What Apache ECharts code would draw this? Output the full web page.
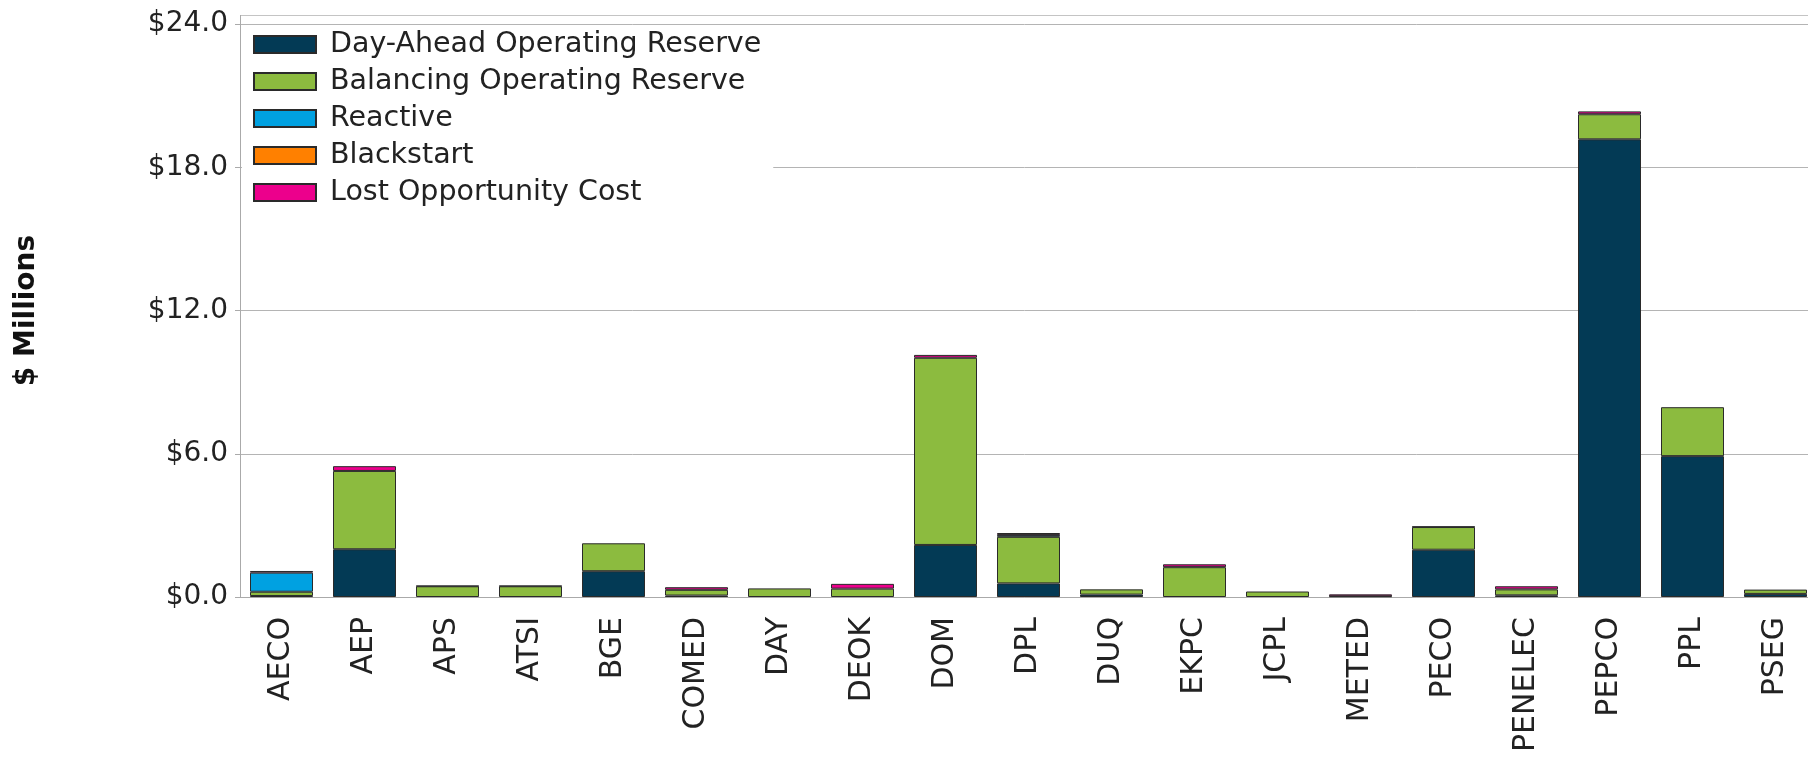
<!DOCTYPE html>
<html>
<head>
<meta charset="utf-8">
<script src="https://cdn.jsdelivr.net/npm/echarts@6/dist/echarts.min.js"></script>
<style>
html,body{margin:0;padding:0;background:#fff;}
#chart{width:1808px;height:765px;}
</style>
</head>
<body>
<div id="chart"></div>
<script>
const categories = ['AECO','AEP','APS','ATSI','BGE','COMED','DAY','DEOK','DOM','DPL','DUQ','EKPC','JCPL','METED','PECO','PENELEC','PEPCO','PPL','PSEG'];
const dayAhead   = [0.04, 2.00, 0,    0,    1.08, 0.06, 0,    0,    2.18, 0.57, 0.10, 0,    0,    0,    1.98, 0.07, 19.17, 5.90, 0.13];
const balancing  = [0.18, 3.28, 0.45, 0.45, 1.17, 0.24, 0.36, 0.35, 7.84, 1.95, 0.22, 1.25, 0.23, 0.03, 0.95, 0.25, 1.05,  2.05, 0.18];
const reactive   = [0.80, 0,    0.02, 0.02, 0,    0,    0,    0,    0,    0.08, 0,    0,    0,    0,    0.02, 0,    0,     0,    0];
const blackstart = [0,    0,    0,    0,    0,    0,    0,    0,    0,    0,    0,    0,    0,    0,    0,    0,    0,     0,    0];
const lostOpp    = [0.07, 0.20, 0,    0,    0,    0.11, 0,    0.20, 0.12, 0.08, 0,    0.12, 0,    0.08, 0,    0.13, 0.12,  0,    0];
const yTicks = {min: 0, max: 24, interval: 6};

const seriesDefs = [
  {name: 'Day-Ahead Operating Reserve', data: dayAhead, color: '#033a55'},
  {name: 'Balancing Operating Reserve', data: balancing, color: '#8cbb3f'},
  {name: 'Reactive', data: reactive, color: '#00a1e1'},
  {name: 'Blackstart', data: blackstart, color: '#ff8000'},
  {name: 'Lost Opportunity Cost', data: lostOpp, color: '#ec008c'}
];

const FONT = 'DejaVu Sans';
const chart = echarts.init(document.getElementById('chart'), null, {renderer: 'canvas'});
chart.setOption({
  animation: false,
  backgroundColor: '#ffffff',
  textStyle: {fontFamily: FONT},
  grid: {left: 240, right: -9, top: 24, bottom: 168, containLabel: false, outerBoundsMode: 'none'},
  legend: {
    orient: 'vertical',
    left: 242, top: 26,
    padding: [4, 12, 10, 11],
    backgroundColor: '#ffffff',
    icon: 'rect',
    itemWidth: 62, itemHeight: 17, itemGap: 8,
    textStyle: {fontFamily: FONT, fontSize: 28.5, color: '#222', padding: [0, 0, 0, 9]},
    data: seriesDefs.map(s => s.name)
  },
  xAxis: {
    type: 'category',
    data: categories,
    axisLine: {show: true, lineStyle: {color: '#aaa', width: 1}},
    axisTick: {show: false},
    axisLabel: {rotate: 90, margin: 20, fontFamily: FONT, fontSize: 30, color: '#222', interval: 0}
  },
  yAxis: {
    type: 'value',
    min: yTicks.min, max: yTicks.max, interval: yTicks.interval,
    name: '$ Millions',
    nameLocation: 'middle',
    nameGap: 199,
    nameTextStyle: {fontFamily: FONT, fontSize: 28, fontWeight: 'bold', color: '#111'},
    axisLine: {show: true, lineStyle: {color: '#aaa', width: 1}},
    axisTick: {show: true, length: 5, lineStyle: {color: '#aaa'}},
    axisLabel: {margin: 12, fontFamily: FONT, fontSize: 28, color: '#222',
      formatter: v => '$' + v.toFixed(1)},
    splitLine: {show: true, lineStyle: {color: '#b4b4b4', width: 1}}
  },
  graphic: [
    {type: 'line', silent: true, z: 0, shape: {x1: 240, y1: 15.5, x2: 1808, y2: 15.5}, style: {stroke: '#c4c4c4', lineWidth: 1}},
    {type: 'line', silent: true, z: 0, shape: {x1: 240.5, y1: 15, x2: 240.5, y2: 24}, style: {stroke: '#aaa', lineWidth: 1}}
  ],
  series: seriesDefs.map(s => ({
    name: s.name,
    type: 'bar',
    stack: 'total',
    barWidth: 63,
    data: s.data.map(v => v === 0 ? '-' : v),
    itemStyle: {color: s.color, borderColor: '#2a2a2a', borderWidth: 1}
  }))
});
</script>
</body>
</html>
